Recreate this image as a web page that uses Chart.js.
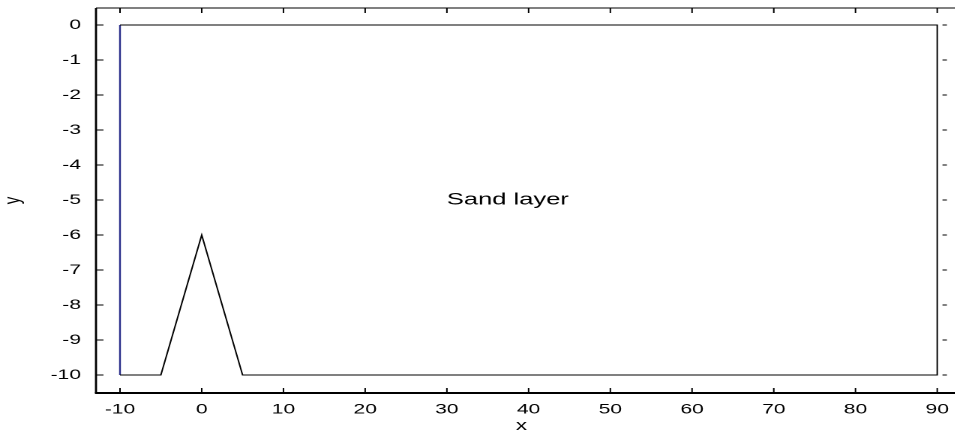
<!DOCTYPE html>
<html>
<head>
<meta charset="utf-8">
<script src="https://cdn.jsdelivr.net/npm/chart.js"></script>
<style>
  html, body { margin: 0; padding: 0; background: #fff; overflow: hidden; }
  /* the reference picture is stretched sideways ~1.5x, text included */
  #wrap { width: 637px; height: 432px; transform: scaleX(1.5); transform-origin: 0 0; }
</style>
</head>
<body>
<div id="wrap"><canvas id="chart"></canvas></div>
<script>
// outline of the domain (black) and its left edge (blue)
const boxX = [-10, 90, 90, 5, 0, -5, -10];
const boxY = [0, 0, -10, -10, -6, -10, -10];
const edgeX = [-10, -10];
const edgeY = [-10, 0];

const xTicks = [-10, 0, 10, 20, 30, 40, 50, 60, 70, 80, 90];
const yTicks = [0, -1, -2, -3, -4, -5, -6, -7, -8, -9, -10];

const noteText = 'Sand layer';
const noteX = 30;
const noteY = -5;

const toPoints = (xs, ys) => xs.map((v, i) => ({ x: v, y: ys[i] }));

Chart.defaults.font.family = '"Liberation Sans", Arial, sans-serif';
Chart.defaults.color = '#000';

// matlab style box: inward ticks on all sides, plus the text note
const frame = {
  id: 'frame',
  afterDatasetsDraw(chart) {
    const { ctx, chartArea: a, scales: { x, y } } = chart;
    const line = (x1, y1, x2, y2) => { ctx.beginPath(); ctx.moveTo(x1, y1); ctx.lineTo(x2, y2); ctx.stroke(); };
    ctx.save();
    ctx.strokeStyle = '#000';
    ctx.lineWidth = 1;
    line(a.left, a.top, chart.width, a.top);
    ctx.lineWidth = 2;
    line(a.left - 0.7, a.bottom, chart.width, a.bottom);
    ctx.lineWidth = 1.4;
    line(a.left, a.top, a.left, a.bottom);

    ctx.lineWidth = 1;
    xTicks.forEach(v => {
      const px = x.getPixelForValue(v);
      line(px, a.bottom, px, a.bottom - 5);
      line(px, a.top, px, a.top + 5);
    });
    yTicks.forEach(v => {
      const py = y.getPixelForValue(v);
      line(a.left, py, a.left + 5, py);
      line(a.right - 3, py, a.right, py);
    });

    ctx.fillStyle = '#000';
    ctx.font = '17px "Liberation Sans", Arial, sans-serif';
    ctx.textAlign = 'left';
    ctx.textBaseline = 'middle';
    ctx.fillText(noteText, x.getPixelForValue(noteX), y.getPixelForValue(noteY));
    ctx.restore();
  }
};

new Chart(document.getElementById('chart'), {
  type: 'scatter',
  data: {
    datasets: [
      { data: toPoints(boxX, boxY), showLine: true, borderColor: '#000', borderWidth: 1, pointRadius: 0, tension: 0 },
      { data: toPoints(edgeX, edgeY), showLine: true, borderColor: '#2b2f8a', borderWidth: 1.2, pointRadius: 0, tension: 0 }
    ]
  },
  options: {
    responsive: true,
    maintainAspectRatio: false,
    animation: false,
    devicePixelRatio: 2,
    layout: { padding: { top: 8, right: 5.7, bottom: 0, left: 0 } },
    plugins: { legend: { display: false }, tooltip: { enabled: false } },
    scales: {
      x: {
        type: 'linear',
        min: -12.937,
        max: 91.19,
        afterBuildTicks: s => { s.ticks = xTicks.map(v => ({ value: v })); },
        afterFit: s => { s.height = 39; s.paddingLeft = 0; s.paddingRight = 0; },
        grid: { display: false, drawTicks: false },
        border: { display: false },
        ticks: { font: { size: 14 }, padding: 8, maxRotation: 0, autoSkip: false, callback: v => String(v) },
        title: { display: true, text: 'x', font: { size: 15 }, padding: { top: 0, bottom: -3 } }
      },
      y: {
        type: 'linear',
        min: -10.514,
        max: 0.486,
        afterBuildTicks: s => { s.ticks = yTicks.map(v => ({ value: v })); },
        afterFit: s => { s.width = 64; s.paddingTop = 0; s.paddingBottom = 0; },
        grid: { display: false, drawTicks: false },
        border: { display: false },
        ticks: { font: { size: 14 }, padding: 10, autoSkip: false, callback: v => String(v) },
        title: { display: true, text: 'y', font: { size: 15 }, padding: 0 }
      }
    }
  },
  plugins: [frame]
});
</script>
</body>
</html>
